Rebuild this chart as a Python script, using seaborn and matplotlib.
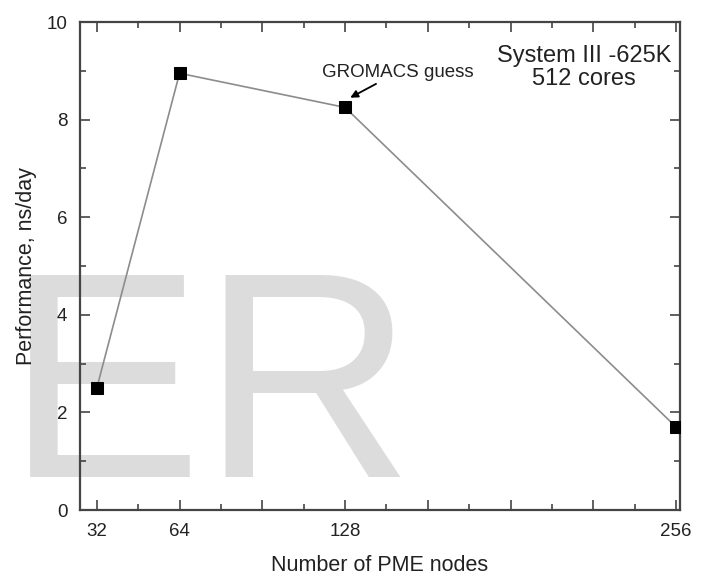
import matplotlib
matplotlib.use("Agg")
import matplotlib.pyplot as plt
import seaborn as sns
import pandas as pd
from matplotlib.ticker import MultipleLocator

# data
pme_nodes = [32, 64, 128, 256]
performance = [2.5, 8.95, 8.25, 1.7]
xtick_vals = [32, 64, 96, 128, 160, 192, 224, 256]
xtick_labels = ["32", "64", "", "128", "", "", "", "256"]

df = pd.DataFrame({"nodes": pme_nodes, "perf": performance})

sns.set_style("ticks")
plt.rcParams["font.family"] = ["Liberation Sans", "DejaVu Sans"]
plt.rcParams["xtick.direction"] = "in"
plt.rcParams["ytick.direction"] = "in"

fig = plt.figure(figsize=(7.04, 5.78), dpi=100)
ax = fig.add_axes([0.1136, 0.1176, 0.8523, 0.8443])

# watermark behind the data
ax.text(0.009, 0.1747, "ER", transform=fig.transFigure, fontsize=212, color="#dcdcdc",
        ha="left", va="baseline", zorder=0.5, clip_on=False)

sns.lineplot(data=df, x="nodes", y="perf", ax=ax, color="#8c8c8c", linewidth=1.2,
             marker="s", markersize=8.5, markerfacecolor="black", markeredgecolor="black",
             zorder=3)

ax.set_xlim(25.5, 257.5)
ax.set_ylim(0, 10)
ax.set_xticks(xtick_vals)
ax.set_xticklabels(xtick_labels)
ax.xaxis.set_minor_locator(MultipleLocator(16))
ax.yaxis.set_major_locator(MultipleLocator(2))
ax.yaxis.set_minor_locator(MultipleLocator(1))
ax.tick_params(which="both", top=True, right=True, labelsize=13.5, labelcolor="#222222",
               color="#444444", width=1.2)
ax.tick_params(which="major", length=7, pad=9)
ax.tick_params(which="minor", length=4)
for s in ax.spines.values():
    s.set_linewidth(1.6)
    s.set_color("#444444")

ax.set_xlabel("Number of PME nodes", fontsize=15.5, color="#222222", labelpad=11)
ax.set_ylabel("Performance, ns/day", fontsize=15.5, color="#222222", labelpad=7)

ax.text(0.84, 0.906, "System III -625K\n512 cores", transform=ax.transAxes,
        ha="center", va="center", fontsize=17, color="#222222", linespacing=1.05)
ax.annotate("GROMACS guess", xy=(130, 8.45), xytext=(148.5, 8.8),
            fontsize=13.5, color="#222222", ha="center", va="bottom",
            arrowprops=dict(arrowstyle="-|>", color="black", lw=1.3,
                            shrinkA=0, shrinkB=0, mutation_scale=11))

fig.savefig("out.png", dpi=100)
